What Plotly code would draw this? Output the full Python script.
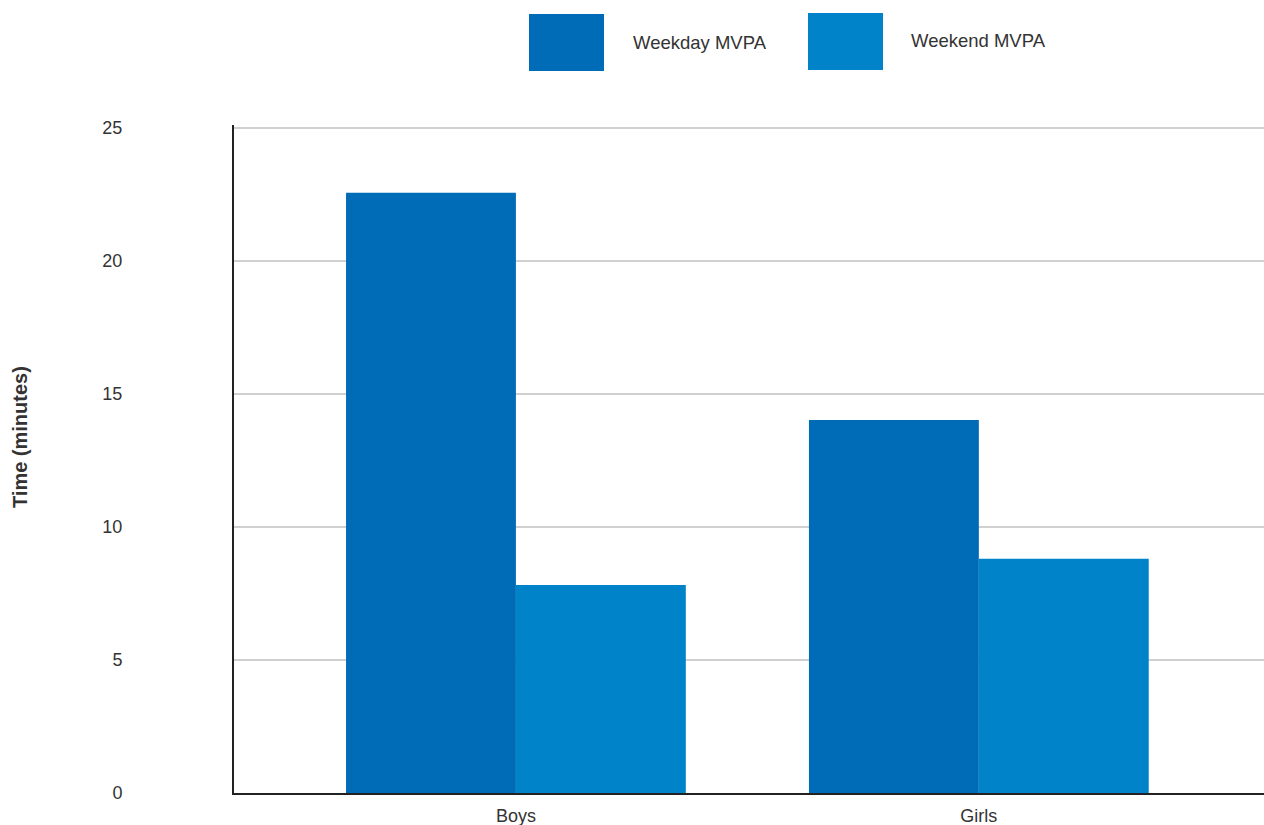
import plotly.graph_objects as go

categories = ["Boys", "Girls"]
weekday_mvpa = [22.55, 14.02]
weekend_mvpa = [7.82, 8.8]
series_names = ["Weekday MVPA", "Weekend MVPA"]
colors = ["#006CB7", "#0083C9"]
y_ticks = [0, 5, 10, 15, 20, 25]

W, H = 1264, 825
ML, MR, MT, MB = 234, 0, 125, 32
PW, PH = W - ML - MR, H - MT - MB

def px_x(x):
    return (x - ML) / PW

def px_y(y):
    return (H - MB - y) / PH

fig = go.Figure()
for name, vals, c in zip(series_names, [weekday_mvpa, weekend_mvpa], colors):
    fig.add_trace(go.Bar(x=categories, y=vals, name=name, marker=dict(color=c, line=dict(width=0)),
                         showlegend=False))

font = "Liberation Sans, Arial, sans-serif"
fig.update_layout(
    width=W, height=H,
    margin=dict(l=ML, r=MR, t=MT, b=MB),
    paper_bgcolor="white", plot_bgcolor="white",
    barmode="group", bargap=0.266, bargroupgap=0,
    font=dict(family=font, size=18, color="#333333"),
    xaxis=dict(range=[-0.609, 1.616], showgrid=False, showline=True, linecolor="#222222",
               linewidth=2, ticks="", ticklabelstandoff=5,
               tickfont=dict(size=18, color="#333333")),
    yaxis=dict(range=[0, 25.1], tickvals=y_ticks, showgrid=True, gridcolor="#D0D0D0",
               gridwidth=1.5, showline=True, linecolor="#222222", linewidth=2,
               ticks="", zeroline=False, ticklabelstandoff=106,
               tickfont=dict(size=18, color="#333333")),
)

# Legend swatches and labels (decorative, drawn in paper coordinates)
legend_items = [(529, 604, 14, 71, 631, 43), (808, 883, 13, 70, 909, 40)]
for (x0, x1, y0, y1, tx, ty), name, c in zip(legend_items, series_names, colors):
    fig.add_shape(type="rect", xref="paper", yref="paper",
                  x0=px_x(x0), x1=px_x(x1), y0=px_y(y1), y1=px_y(y0),
                  fillcolor=c, line=dict(width=0))
    fig.add_annotation(xref="paper", yref="paper", x=px_x(tx), y=px_y(ty),
                       text=name, showarrow=False, xanchor="left", yanchor="middle",
                       font=dict(size=18.5, color="#333333", family=font))

fig.add_annotation(xref="paper", yref="paper", x=px_x(20), y=px_y(437),
                   text="<b>Time (minutes)</b>", textangle=-90, showarrow=False,
                   xanchor="center", yanchor="middle",
                   font=dict(size=20, color="#333333", family=font))

fig.write_html("out.html")
